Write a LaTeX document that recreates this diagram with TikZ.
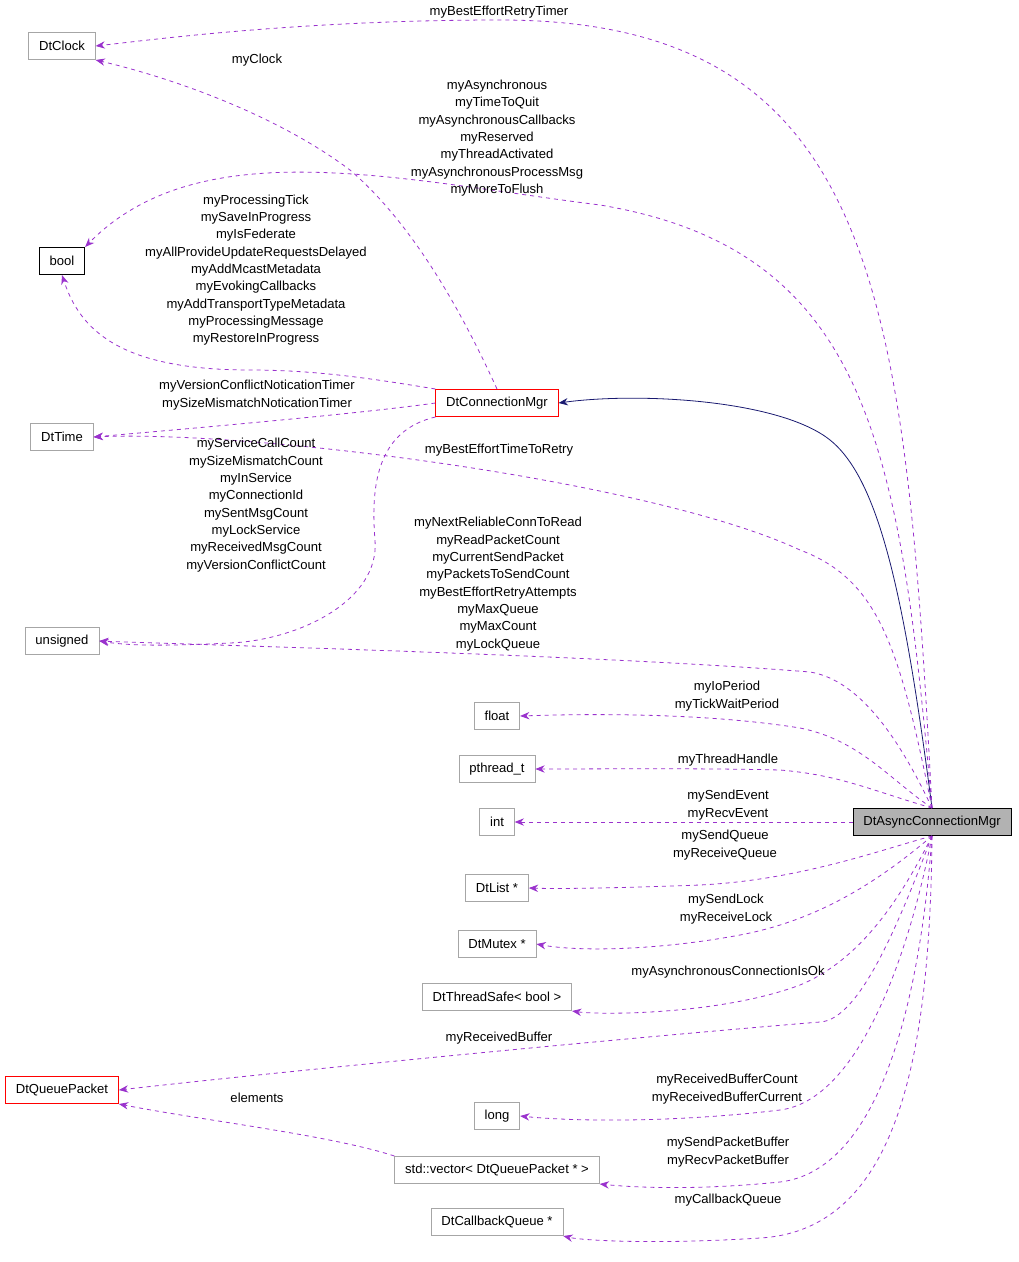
\documentclass[tikz,border=0pt]{standalone}
\usepackage{fontspec}
\setmainfont{Liberation Sans}
\usetikzlibrary{arrows.meta}
\definecolor{mem}{HTML}{9A32CD}
\definecolor{inh}{HTML}{191970}
\begin{document}
\begin{tikzpicture}[x=0.75pt,y=-0.75pt,
 every node/.style={font=\fontsize{9.8}{13}\selectfont},
 box/.style={draw=black!35,fill=white,inner sep=0pt,minimum height=20.5pt,inner xsep=7.8pt,line width=0.5pt},
 lbl/.style={align=center,inner sep=0pt},
 m/.style={draw=mem,dashed,line width=0.6pt,-{Stealth[length=7pt,width=5.5pt]}},
 h/.style={draw=inh,line width=0.6pt,-{Stealth[length=7pt,width=5.5pt]}}]
\useasboundingbox (0,0) rectangle (1019,1262);
\node[box] (clock) at (62,46) {DtClock};
\node[box,draw=black] (bool) at (62,261) {bool};
\node[box] (time) at (62,437) {DtTime};
\node[box] (uns) at (62,641) {unsigned};
\node[box,draw=red] (qp) at (62,1090) {DtQueuePacket};
\node[box,draw=red] (cm) at (497,403) {DtConnectionMgr};
\node[box] (float) at (497,716) {float};
\node[box] (pth) at (497,769) {pthread\_t};
\node[box] (int) at (497,822) {int};
\node[box] (list) at (497,888) {DtList *};
\node[box] (mutex) at (497,944) {DtMutex *};
\node[box] (ts) at (497,997) {DtThreadSafe< bool >};
\node[box] (long) at (497,1116) {long};
\node[box] (vec) at (497,1170) {std::vector< DtQueuePacket * >};
\node[box] (cbq) at (497,1222) {DtCallbackQueue *};
\node[box,draw=black,fill=black!30] (acm) at (932,822) {DtAsyncConnectionMgr};

\draw[h] (acm.north) .. controls (905,600) and (880,480) .. (830,440) .. controls (780,400) and (640,392) .. (cm.east);

\draw[m] (acm.north) .. controls (905,300) and (880,20) .. (500,20) .. controls (300,20) and (150,40) .. (clock.east);
\draw[m] (acm.north) .. controls (900,450) and (870,250) .. (600,205) .. controls (400,180) and (200,130) .. (bool.north east);
\draw[m] (acm.north) .. controls (900,650) and (880,580) .. (800,550) .. controls (650,480) and (250,430) .. (time.east);
\draw[m] (acm.north) .. controls (900,740) and (860,680) .. (810,672) .. controls (600,655) and (200,645) .. (uns.east);
\draw[m] (acm.north) .. controls (890,780) and (860,740) .. (800,728) .. controls (700,712) and (580,714) .. (float.east);
\draw[m] (acm.north) .. controls (870,790) and (840,775) .. (780,770) .. controls (700,768) and (600,769) .. (pth.east);
\draw[m] (acm.west) -- (int.east);
\draw[m] (acm.south) .. controls (880,850) and (800,880) .. (700,885) .. controls (620,888) and (560,889) .. (list.east);
\draw[m] (acm.south) .. controls (880,880) and (820,920) .. (740,935) .. controls (660,950) and (580,952) .. (mutex.east);
\draw[m] (acm.south) .. controls (900,900) and (860,960) .. (800,985) .. controls (720,1015) and (600,1015) .. (ts.south east);
\draw[m] (acm.south) .. controls (900,920) and (860,1020) .. (820,1022) .. controls (600,1040) and (250,1075) .. (qp.east);
\draw[m] (acm.south) .. controls (910,950) and (860,1100) .. (780,1110) .. controls (680,1122) and (580,1122) .. (long.east);
\draw[m] (acm.south) .. controls (920,1000) and (880,1170) .. (780,1182) .. controls (700,1190) and (640,1188) .. (vec.south east);
\draw[m] (acm.south) .. controls (930,1050) and (900,1230) .. (760,1238) .. controls (650,1245) and (580,1240) .. (cbq.south east);

\draw[m] (cm.north) .. controls (470,330) and (420,230) .. (350,170) .. controls (270,110) and (160,75) .. (clock.south east);
\draw[m] (cm.north west) .. controls (380,380) and (320,370) .. (250,370) .. controls (120,370) and (80,330) .. (bool.south);
\draw[m] (cm.west) .. controls (350,415) and (150,432) .. (time.east);
\draw[m] (cm.south west) .. controls (380,430) and (370,480) .. (375,540) .. controls (380,600) and (300,640) .. (230,643) .. controls (170,646) and (130,646) .. (uns.east);
\draw[m] (vec.north west) .. controls (330,1135) and (200,1120) .. (qp.south east);

\node[lbl] at (499,12) {myBestEffortRetryTimer};
\node[lbl] at (257,60) {myClock};
\node[lbl] at (497,138) {myAsynchronous\\myTimeToQuit\\myAsynchronousCallbacks\\myReserved\\myThreadActivated\\myAsynchronousProcessMsg\\myMoreToFlush};
\node[lbl] at (256,270) {myProcessingTick\\mySaveInProgress\\myIsFederate\\myAllProvideUpdateRequestsDelayed\\myAddMcastMetadata\\myEvokingCallbacks\\myAddTransportTypeMetadata\\myProcessingMessage\\myRestoreInProgress};
\node[lbl] at (257,395) {myVersionConflictNoticationTimer\\mySizeMismatchNoticationTimer};
\node[lbl] at (256,505) {myServiceCallCount\\mySizeMismatchCount\\myInService\\myConnectionId\\mySentMsgCount\\myLockService\\myReceivedMsgCount\\myVersionConflictCount};
\node[lbl] at (499,450) {myBestEffortTimeToRetry};
\node[lbl] at (498,584) {myNextReliableConnToRead\\myReadPacketCount\\myCurrentSendPacket\\myPacketsToSendCount\\myBestEffortRetryAttempts\\myMaxQueue\\myMaxCount\\myLockQueue};
\node[lbl] at (727,696) {myIoPeriod\\myTickWaitPeriod};
\node[lbl] at (728,760) {myThreadHandle};
\node[lbl] at (728,805) {mySendEvent\\myRecvEvent};
\node[lbl] at (725,845) {mySendQueue\\myReceiveQueue};
\node[lbl] at (726,909) {mySendLock\\myReceiveLock};
\node[lbl] at (728,972) {myAsynchronousConnectionIsOk};
\node[lbl] at (499,1038) {myReceivedBuffer};
\node[lbl] at (257,1098) {elements};
\node[lbl] at (727,1089) {myReceivedBufferCount\\myReceivedBufferCurrent};
\node[lbl] at (728,1152) {mySendPacketBuffer\\myRecvPacketBuffer};
\node[lbl] at (728,1200) {myCallbackQueue};
\end{tikzpicture}
\end{document}
